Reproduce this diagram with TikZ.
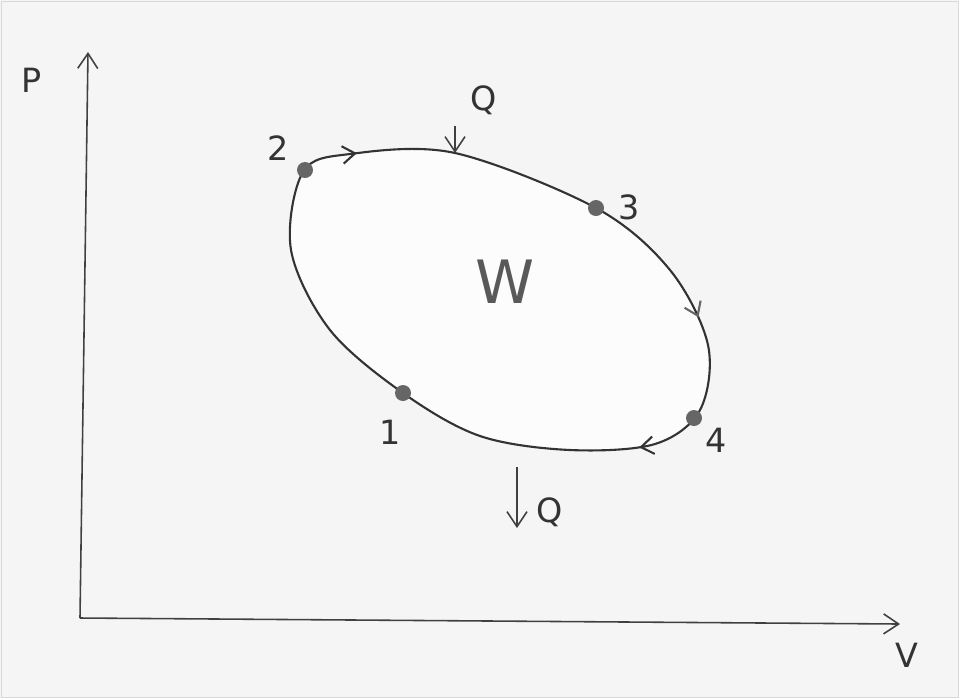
\documentclass[tikz,border=0pt]{standalone}
\usepackage{fontspec}
\setmainfont{DejaVu Sans}
\usetikzlibrary{arrows.meta, decorations.markings}

\begin{document}
\begin{tikzpicture}[
    x=0.02cm, y=-0.02cm,
    >={Straight Barb[length=3mm, width=4mm]},
    lbl/.style={font=\fontsize{19}{19}\selectfont, text=black!80},
    state/.style={circle, fill=black!60, inner sep=0pt, minimum size=3.2mm},
    axis/.style={line width=0.9pt, black!75},
    cyc/.style={line width=1.2pt, black!80},
]
  % paper
  \fill[black!4] (0,0) rectangle (959,698);
  \draw[black!15] (1,1) rectangle (958,697);
  % Axes
  \coordinate (o) at (80,618);
  \coordinate (ptop) at (88,52);
  \coordinate (vend) at (900,624);
  \draw[axis,->] (o) -- (ptop);
  \draw[axis,->] (o) -- (vend);
  \node[lbl] (P) at (32,80) {P};
  \node[lbl] (V) at (907,655) {V};
  % Cycle
  \draw[cyc, fill=black!1,
        postaction={decorate, decoration={markings,
          mark=at position 0.006 with {\arrow[black!80]{Straight Barb[length=2.5mm, width=3.5mm]}},
          mark=at position 0.357 with {\arrow[black!60]{Straight Barb[length=2.5mm, width=3.5mm]}},
          mark=at position 0.505 with {\arrow[black!80]{Straight Barb[length=2.5mm, width=3.5mm]}}}}]
    plot[smooth cycle, tension=0.55] coordinates {
      (303,172) (350,154) (455,153) (596,208) (670,270) (708,345)
      (700,410) (655,444) (570,450) (480,436) (403,393) (330,330) (291,250)};
  % States
  \node[state] (s1) at (403,393) {};
  \node[state] (s2) at (305,170) {};
  \node[state] (s3) at (596,208) {};
  \node[state] (s4) at (694,418) {};
  \node[lbl] (n1) at (390,432) {1};
  \node[lbl] (n2) at (278,148) {2};
  \node[lbl] (n3) at (629,207) {3};
  \node[lbl] (n4) at (716,440) {4};
  % Work
  \node[font=\fontsize{34}{34}\selectfont, text=black!65] (w) at (505,282) {W};
  % Heat
  \coordinate (qinT) at (455,126);
  \coordinate (qinB) at (455,153);
  \draw[axis,->] (qinT) -- (qinB);
  \node[lbl] (qin) at (484,100) {Q};
  \coordinate (qoutT) at (517,467);
  \coordinate (qoutB) at (517,528);
  \draw[axis,->] (qoutT) -- (qoutB);
  \node[lbl] (qout) at (550,512) {Q};
\end{tikzpicture}
\end{document}
